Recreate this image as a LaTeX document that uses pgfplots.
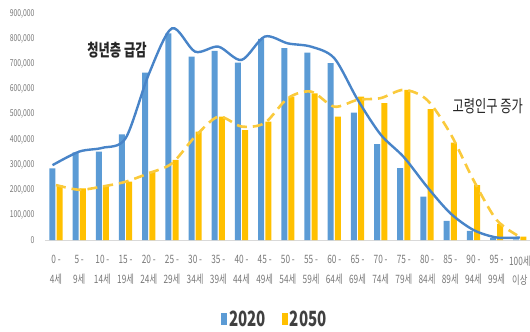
\documentclass[border=0pt]{standalone}
\usepackage{pgfplots}
\pgfplotsset{compat=1.18}
\usepackage{fontspec}
\setmainfont{Noto Sans CJK KR}[FakeStretch=0.72]
\usetikzlibrary{calc}
\definecolor{cblue}{RGB}{91,155,213}
\definecolor{cyel}{RGB}{255,192,0}
\definecolor{lblue}{RGB}{72,132,200}
\definecolor{lyel}{RGB}{250,202,60}
\definecolor{tgray}{RGB}{120,120,120}
\begin{document}
\begin{tikzpicture}
\begin{axis}[
  scale only axis, width=485bp, height=226bp,
  xmin=-0.474, xmax=20.44, ymin=0, ymax=900000,
  ybar, bar width=6bp,
  axis x line*=bottom, axis y line*=left,
  x axis line style={draw=black!15},
  y axis line style={draw=none},
  major tick length=0pt,
  scaled y ticks=false,
  ytick={0,100000,...,900000},
  yticklabel style={font=\fontsize{9.5bp}{11bp}\selectfont, text=tgray, xshift=-7bp},
  /pgf/number format/.cd, fixed, 1000 sep={,}, assume math mode=true,
  /pgfplots/.cd,
  xtick={0,...,20},
  xticklabels={{0 -\\4세},{5 -\\9세},{10 -\\14세},{15 -\\19세},{20 -\\24세},{25 -\\29세},{30 -\\34세},{35 -\\39세},{40 -\\44세},{45 -\\49세},{50 -\\54세},{55 -\\59세},{60 -\\64세},{65 -\\69세},{70 -\\74세},{75 -\\79세},{80 -\\84세},{85 -\\89세},{90 -\\94세},{95 -\\99세},{100세\\이상}},
  xticklabel style={align=center, font=\fontsize{11.5bp}{19.5bp}\selectfont, text=tgray, yshift=-12bp},
  legend style={at={(0.474,-0.35)}, anchor=center, draw=none, fill=none,
    legend columns=2, font=\fontsize{21bp}{24bp}\selectfont\bfseries, text=black!75,
    /tikz/every even column/.append style={column sep=14bp}},
  legend image code/.code={\fill[#1, draw=none] (0bp,-6bp) rectangle (6bp,6bp);},
]
\addplot[fill=cblue, draw=none, bar shift=-3.6bp] coordinates {
(0,285000) (1,349000) (2,352000) (3,421000) (4,667000) (5,823000) (6,730000)
(7,753000) (8,706000) (9,801000) (10,764000) (11,746000) (12,704000) (13,507000)
(14,382000) (15,286000) (16,173000) (17,76000) (18,36000) (19,8000) (20,2000)};
\addlegendentry{2020}
\addplot[fill=cyel, draw=none, bar shift=3.6bp] coordinates {
(0,219000) (1,206000) (2,219000) (3,232000) (4,272000) (5,319000) (6,432000)
(7,491000) (8,438000) (9,471000) (10,571000) (11,584000) (12,491000) (13,571000)
(14,545000) (15,598000) (16,521000) (17,388000) (18,219000) (19,64000) (20,13000)};
\addlegendentry{2050}
\addplot[sharp plot, smooth, draw=lblue, line width=2.4bp, no marks, forget plot] coordinates {
(-0.15,298000) (1,352000) (2,367000) (3,405000) (4,660000) (5,843000) (6,750000)
(7,770000) (8,717000) (9,810000) (10,783000) (11,770000) (12,724000) (13,560000)
(14,420000) (15,330000) (16,212000) (17,107000) (18,40000) (19,10000) (20,10000)};
\addplot[sharp plot, smooth, draw=lyel, line width=2.6bp, dash pattern=on 10bp off 6bp, no marks, forget plot] coordinates {
(0,219000) (1,200000) (2,213000) (3,232000) (4,266000) (5,305000) (6,412000)
(7,491000) (8,452000) (9,466000) (10,565000) (11,591000) (12,531000) (13,558000)
(14,565000) (15,598000) (16,558000) (17,425000) (18,239000) (19,80000) (20,13000)};
\node[font=\fontsize{17bp}{20bp}\selectfont\bfseries, text=black!85] at (axis cs:2.63,756000) {청년층 급감};
\node[font=\fontsize{17bp}{20bp}\selectfont, text=black!85] at (axis cs:18.62,533000) {고령인구 증가};
\end{axis}
\pgfresetboundingbox
\path[use as bounding box] ($(current axis.south west)+(-45bp,-92bp)$) rectangle ++(530bp,332bp);
\end{tikzpicture}
\end{document}
